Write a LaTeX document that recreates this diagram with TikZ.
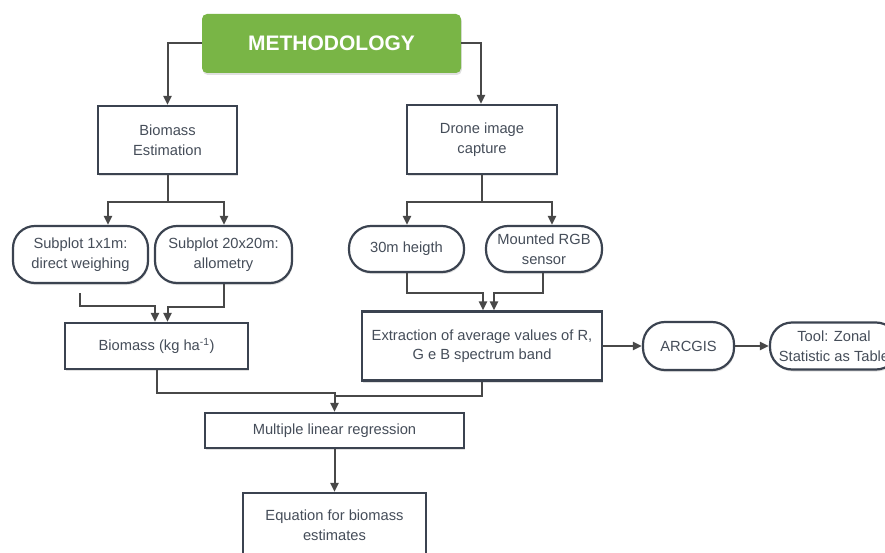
\documentclass[tikz,border=0pt]{standalone}
\usepackage{fontspec}
\setmainfont{Liberation Sans}
\usetikzlibrary{arrows.meta,shadows}
\definecolor{methgreen}{HTML}{79B546}
\definecolor{boxline}{HTML}{3B4350}
\definecolor{boxtext}{HTML}{454D59}
\definecolor{conn}{HTML}{484848}
\begin{document}
\begin{tikzpicture}[x=1pt,y=-1pt,
  base/.style={draw=boxline, line width=2.2pt, fill=white, align=center, inner sep=0pt,
    text=boxtext, font=\fontsize{14.7}{19.5}\selectfont,
    drop shadow={shadow xshift=0.8pt, shadow yshift=-2pt, opacity=0.12, fill=black}},
  rbox/.style={base},
  pill/.style={base, rounded corners=22pt},
  meth/.style={fill=methgreen, rounded corners=5pt, text=white, inner sep=0pt,
    font=\fontsize{21}{24}\selectfont\bfseries,
    drop shadow={shadow xshift=0.8pt, shadow yshift=-2pt, opacity=0.12, fill=black}},
  line/.style={draw=conn, line width=2pt},
  arr/.style={line, -{Triangle[length=9pt,width=8pt]}}
]
\useasboundingbox (0,0) rectangle (885,553);
\clip (0,0) rectangle (885,553);

% nodes
\node[meth, minimum width=259pt, minimum height=59pt] (m) at (331.5,43.5) {METHODOLOGY};
\node[rbox, minimum width=139pt, minimum height=68pt] (be) at (167.5,140) {Biomass\\Estimation};
\node[rbox, minimum width=150pt, minimum height=69pt] (dr) at (482,139.5) {Drone image\\capture};
\node[pill, minimum width=135pt, minimum height=57pt] (s1) at (80.5,254.5) {Subplot 1x1m:\\direct weighing};
\node[pill, minimum width=137pt, minimum height=57pt] (s2) at (223.5,254.5) {Subplot 20x20m:\\allometry};
\node[pill, minimum width=115pt, minimum height=46pt] (h30) at (406.5,249) {30m heigth};
\node[pill, minimum width=116pt, minimum height=46pt] (rgb) at (544,249) {Mounted RGB\\sensor};
\node[rbox, minimum width=183pt, minimum height=46pt] (bkg) at (156.5,346) {Biomass (kg ha\textsuperscript{-1})};
\node[rbox, minimum width=240pt, minimum height=69pt] (ext) at (482,346) {Extraction of average values of R,\\G e B spectrum band};
\node[pill, minimum width=91pt, minimum height=48pt] (arc) at (688.5,346) {ARCGIS};
\node[pill, minimum width=128pt, minimum height=47pt] (tool) at (834,346) {Tool: Zonal\\Statistic as Table};
\node[rbox, minimum width=259pt, minimum height=35pt] (mlr) at (334.5,430.5) {Multiple linear regression};
\node[rbox, minimum width=183pt, minimum height=64pt] (eq) at (334.5,525) {Equation for biomass\\estimates};

% connectors
\draw[arr] (m.west) -| (be.north);
\draw[arr] (m.east) -| ([xshift=-1pt]dr.north);

\coordinate (bsplit) at (167.5,202);
\draw[line] (be.south) -- (bsplit);
\draw[arr] (bsplit) -| ([xshift=27.5pt]s1.north);
\draw[arr] (bsplit) -| ([xshift=0.5pt]s2.north);

\coordinate (dsplit) at (482,202);
\draw[line] (dr.south) -- (dsplit);
\draw[arr] (dsplit) -| ([xshift=0.5pt]h30.north);
\draw[arr] (dsplit) -| ([xshift=8pt]rgb.north);

\coordinate (s1out) at (80,293);
\draw[arr] (s1out) -- ++(0,13) -| ([xshift=-1.5pt]bkg.north);
\draw[arr] ([xshift=0.5pt]s2.south) -- ++(0,23) -| ([xshift=11pt]bkg.north);

\draw[arr] ([xshift=0.5pt]h30.south) -- ++(0,20) -| ([xshift=1pt]ext.north);
\draw[arr] ([xshift=-1pt]rgb.south) -- ++(0,20) -| ([xshift=12pt]ext.north);

\draw[arr] (ext.east) -- (arc.west);
\draw[arr] (arc.east) -- (tool.west);

\draw[arr] (bkg.south) -- ++(0,23) -| (mlr.north);
\draw[line] (ext.south) |- ([yshift=16pt]mlr.north);
\draw[arr] (mlr.south) -- (eq.north);
\end{tikzpicture}
\end{document}
